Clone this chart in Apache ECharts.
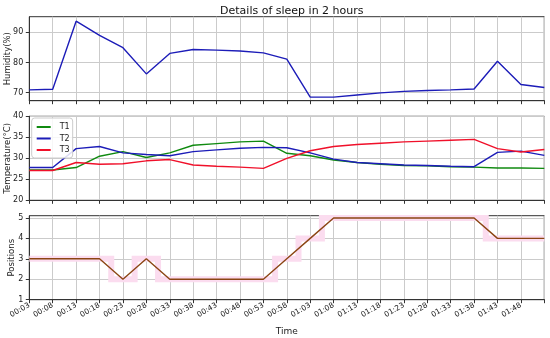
<!DOCTYPE html>
<html>
<head>
<meta charset="utf-8">
<script src="https://cdn.jsdelivr.net/npm/echarts@6/dist/echarts.min.js"></script>
<style>html,body{margin:0;padding:0;background:#fff}#c{width:550px;height:338px}</style>
</head>
<body>
<div id="c"></div>
<script>
const times = ['00:03','00:08','00:13','00:18','00:23','00:28','00:33','00:38','00:43','00:48','00:53','00:58','01:03','01:08','01:13','01:18','01:23','01:28','01:33','01:38','01:43','01:48','01:53'];
const humidity = [70.9,71.1,93.7,89.0,84.9,76.2,83.0,84.3,84.1,83.8,83.2,81.1,68.5,68.5,69.2,69.9,70.4,70.7,70.9,71.2,80.4,72.7,71.7];
const t1 = [27.2,27.2,27.8,30.5,31.6,30.2,31.3,33.1,33.5,33.9,34.1,31.2,30.6,29.6,29.0,28.6,28.3,28.2,28.0,27.9,27.7,27.7,27.6];
const t2 = [27.8,27.8,32.3,32.8,31.3,30.9,30.6,31.6,32.0,32.4,32.6,32.5,31.3,29.8,29.0,28.7,28.4,28.3,28.1,28.0,31.4,31.7,30.7];
const t3 = [27.1,27.1,29.0,28.6,28.7,29.4,29.7,28.4,28.1,27.9,27.6,30.0,31.8,32.8,33.3,33.6,33.9,34.1,34.3,34.5,32.3,31.5,32.1];
const positions = [3,3,3,3,2,3,2,2,2,2,2,3,4,5,5,5,5,5,5,5,4,4,4];
const humidityTicks = [70,80,90];
const tempTicks = [20,25,30,35,40];
const positionTicks = [1,2,3,4,5];

const FONT = 'DejaVu Sans';
const spine = '#333';
const gridCol = '#cbcbcb';

function xAxis(gi, showLabels) {
  return {
    type: 'category', gridIndex: gi, data: times, boundaryGap: false,
    axisLine: {show: true, lineStyle: {color: spine, width: 1}},
    axisTick: {show: true, interval: 0, length: 3.5, lineStyle: {color: spine}},
    splitLine: {show: true, interval: 0, lineStyle: {color: gridCol, width: 1}},
    axisLabel: showLabels ? {
      show: true, interval: 0, rotate: 30, margin: 5, fontSize: 7.5, fontFamily: FONT, color: '#222',
      formatter: (v, i) => (i === times.length - 1 ? '' : v)
    } : {show: false},
    name: showLabels ? 'Time' : '', nameLocation: 'middle', nameGap: 27,
    nameTextStyle: {fontSize: 9, fontFamily: FONT, color: '#222'}
  };
}
function yAxis(gi, name, min, max, ticks, gap) {
  return {
    type: 'value', gridIndex: gi, min: min, max: max,
    name: name, nameLocation: 'middle', nameRotate: 90, nameGap: gap, nameMoveOverlap: false,
    nameTextStyle: {fontSize: 8.5, fontFamily: FONT, color: '#222'},
    axisLine: {show: true, lineStyle: {color: spine, width: 1}},
    axisTick: {show: true, length: 3.5, customValues: ticks, lineStyle: {color: spine}},
    axisLabel: {show: true, customValues: ticks, margin: 6, fontSize: 8, fontFamily: FONT, color: '#222'},
    splitLine: {show: true, lineStyle: {color: gridCol, width: 1}}
  };
}
const gridBase = {left: 29.3, right: 5.7, height: 84, show: true, borderColor: spine, borderWidth: 1,
  backgroundColor: 'transparent', containLabel: false, outerBoundsMode: 'none'};

const chart = echarts.init(document.getElementById('c'), null, {renderer: 'canvas'});
chart.setOption({
  animation: false,
  backgroundColor: '#fff',
  title: {text: 'Details of sleep in 2 hours', left: 286.8, textAlign: 'center', top: 1,
    textStyle: {fontSize: 11, fontWeight: 'normal', fontFamily: FONT, color: '#111'}},
  legend: {
    data: ['T1', 'T2', 'T3'], orient: 'vertical', left: 31.7, top: 118,
    itemWidth: 14, itemHeight: 8, itemGap: 3.5,
    padding: [5, 3, 4, 4], borderColor: '#cccccc', borderWidth: 1, borderRadius: 3,
    backgroundColor: 'rgba(255,255,255,0.85)',
    itemStyle: {opacity: 0},
    textStyle: {fontSize: 8, fontFamily: FONT, color: '#222', padding: [0, 0, 0, 4]}
  },
  grid: [
    Object.assign({}, gridBase, {top: 16.7}),
    Object.assign({}, gridBase, {top: 116.3}),
    Object.assign({}, gridBase, {top: 215.7})
  ],
  xAxis: [xAxis(0, false), xAxis(1, false), xAxis(2, true)],
  yAxis: [
    yAxis(0, 'Humidity(%)', 67.3, 95.2, humidityTicks, 17),
    yAxis(1, 'Temperature(°C)', 20, 40, tempTicks, 17),
    yAxis(2, 'Positions', 1, 5.11, positionTicks, 13)
  ],
  series: [
    {type: 'line', name: 'Humidity', xAxisIndex: 0, yAxisIndex: 0, data: humidity, symbol: 'none',
      lineStyle: {color: '#1c1cb8', width: 1.4}, itemStyle: {color: '#1c1cb8'}},
    {type: 'line', name: 'T1', xAxisIndex: 1, yAxisIndex: 1, data: t1, symbol: 'none',
      lineStyle: {color: '#108a10', width: 1.4}, itemStyle: {color: '#108a10'}},
    {type: 'line', name: 'T2', xAxisIndex: 1, yAxisIndex: 1, data: t2, symbol: 'none',
      lineStyle: {color: '#1c1cb8', width: 1.4}, itemStyle: {color: '#1c1cb8'}},
    {type: 'line', name: 'T3', xAxisIndex: 1, yAxisIndex: 1, data: t3, symbol: 'none',
      lineStyle: {color: '#f0102a', width: 1.4}, itemStyle: {color: '#f0102a'}},
    {type: 'line', name: 'PosBand', xAxisIndex: 2, yAxisIndex: 2, data: positions, symbol: 'none', step: 'middle',
      lineStyle: {color: '#fbdcef', width: 6, join: 'miter', cap: 'butt'}, z: 1},
    {type: 'line', name: 'Positions', xAxisIndex: 2, yAxisIndex: 2, data: positions, symbol: 'none',
      lineStyle: {color: '#8b4513', width: 1.4}, z: 3}
  ]
});
</script>
</body>
</html>
